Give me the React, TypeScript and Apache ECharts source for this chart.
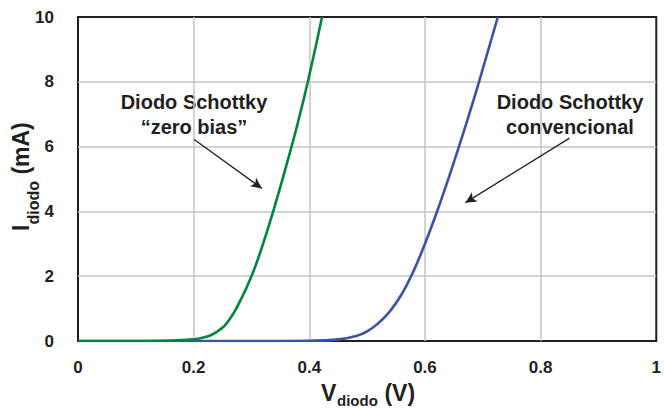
import React, { useEffect, useRef } from "react";
import * as echarts from "echarts";

// Diodo Schottky "zero bias" (green)
const zeroBiasV = [0, 0.1, 0.15, 0.18, 0.2, 0.22, 0.24, 0.26, 0.28, 0.3, 0.32, 0.34, 0.36, 0.38, 0.4, 0.422];
const zeroBiasI = [0, 0, 0.01, 0.03, 0.05, 0.12, 0.28, 0.62, 1.22, 2.0, 3.0, 4.15, 5.4, 6.72, 8.2, 10];

// Diodo Schottky convencional (blue)
const convV = [0, 0.3, 0.4, 0.45, 0.48, 0.5, 0.52, 0.54, 0.56, 0.58, 0.6, 0.62, 0.64, 0.66, 0.68, 0.7, 0.726];
const convI = [0, 0, 0.01, 0.05, 0.15, 0.3, 0.56, 0.93, 1.45, 2.15, 3.0, 3.95, 4.98, 6.07, 7.2, 8.4, 10];

// Axis ranges
const xRange = [0, 1, 0.2];
const yRange = [0, 10, 2];

// Annotation arrows (data coordinates: [V, I] start -> end)
const arrowZeroBias = [[0.201, 6.22], [0.318, 4.71]];
const arrowConv = [[0.85, 6.26], [0.67, 4.27]];
const labelZeroBias = "Diodo Schottky\n“zero bias”";
const labelConv = "Diodo Schottky\nconvencional";

const FONT = "'Liberation Sans', Arial, Helvetica, sans-serif";
const INK = "#231f20";

export default function App() {
  const ref = useRef<HTMLDivElement>(null);
  useEffect(() => {
    if (!ref.current) return;
    const chart = echarts.init(ref.current, null, { renderer: "svg" });
    const arrowLine = (a: number[][]) => ({
      silent: true,
      symbol: ["none", "arrow"],
      symbolSize: [8, 11],
      label: { show: false },
      lineStyle: { color: INK, width: 1.3, type: "solid" },
      emphasis: { disabled: true },
      data: [[{ coord: a[0] }, { coord: a[1] }]],
    });
    chart.setOption({
      animation: false,
      backgroundColor: "#ffffff",
      textStyle: { fontFamily: FONT },
      grid: {
        left: 78,
        top: 17,
        right: 3.5,
        bottom: 67,
        show: true,
        borderColor: INK,
        borderWidth: 2,
        backgroundColor: "transparent",
      },
      xAxis: {
        type: "value",
        min: xRange[0],
        max: xRange[1],
        interval: xRange[2],
        axisLine: { show: false },
        axisTick: { show: false },
        axisLabel: {
          margin: 18,
          fontSize: 17,
          fontWeight: "bold",
          color: INK,
          fontFamily: FONT,
        },
        splitLine: {
          show: true,
          showMinLine: false,
          showMaxLine: false,
          lineStyle: { color: "#c4c4c4", width: 1.5 },
        },
      },
      yAxis: {
        type: "value",
        min: yRange[0],
        max: yRange[1],
        interval: yRange[2],
        axisLine: { show: false },
        axisTick: { show: false },
        axisLabel: {
          margin: 24,
          fontSize: 17,
          fontWeight: "bold",
          color: INK,
          fontFamily: FONT,
        },
        splitLine: {
          show: true,
          showMinLine: false,
          showMaxLine: false,
          lineStyle: { color: "#c4c4c4", width: 1.5 },
        },
      },
      series: [
        {
          type: "line",
          name: "convencional",
          data: convV.map((v, i) => [v, convI[i]]),
          showSymbol: false,
          smooth: 0.5,
          lineStyle: { color: "#3a53a6", width: 2.6 },
          itemStyle: { color: "#3a53a6" },
          silent: true,
          markLine: arrowLine(arrowConv),
        },
        {
          type: "line",
          name: "zero bias",
          data: zeroBiasV.map((v, i) => [v, zeroBiasI[i]]),
          showSymbol: false,
          smooth: 0.5,
          lineStyle: { color: "#00853f", width: 2.6 },
          itemStyle: { color: "#00853f" },
          silent: true,
          markLine: arrowLine(arrowZeroBias),
        },
      ],
      graphic: [
        {
          type: "text",
          x: 194,
          y: 114,
          silent: true,
          style: {
            text: labelZeroBias,
            font: `bold 20px ${FONT}`,
            fill: INK,
            align: "center",
            verticalAlign: "middle",
            lineHeight: 25,
          },
        },
        {
          type: "text",
          x: 570,
          y: 114,
          silent: true,
          style: {
            text: labelConv,
            font: `bold 20px ${FONT}`,
            fill: INK,
            align: "center",
            verticalAlign: "middle",
            lineHeight: 25,
          },
        },
        // X axis title: V_diodo (V)
        {
          type: "group",
          x: 321,
          y: 393,
          silent: true,
          children: [
            { type: "text", x: 0, y: 0, style: { text: "V", font: `bold 23px ${FONT}`, fill: INK, align: "left", verticalAlign: "middle" } },
            { type: "text", x: 16, y: 7.5, style: { text: "diodo", font: `bold 15px ${FONT}`, fill: INK, align: "left", verticalAlign: "middle" } },
            { type: "text", x: 57, y: 0, style: { text: " (V)", font: `bold 23px ${FONT}`, fill: INK, align: "left", verticalAlign: "middle" } },
          ],
        },
        // Y axis title: I_diodo (mA)
        {
          type: "group",
          x: 0,
          y: 231,
          rotation: Math.PI / 2,
          silent: true,
          children: [
            { type: "text", x: 0, y: 21, style: { text: "I", font: `bold 23px ${FONT}`, fill: INK, align: "left", verticalAlign: "middle" } },
            { type: "text", x: 6.6, y: 33, style: { text: "diodo", font: `bold 16px ${FONT}`, fill: INK, align: "left", verticalAlign: "middle" } },
            { type: "text", x: 50, y: 21, style: { text: " (mA)", font: `bold 23px ${FONT}`, fill: INK, align: "left", verticalAlign: "middle" } },
          ],
        },
      ],
    });
    return () => chart.dispose();
  }, []);
  return (
    <div
      ref={ref}
      style={{ position: "fixed", left: 0, top: 0, width: 664, height: 408, background: "#fff" }}
    />
  );
}
